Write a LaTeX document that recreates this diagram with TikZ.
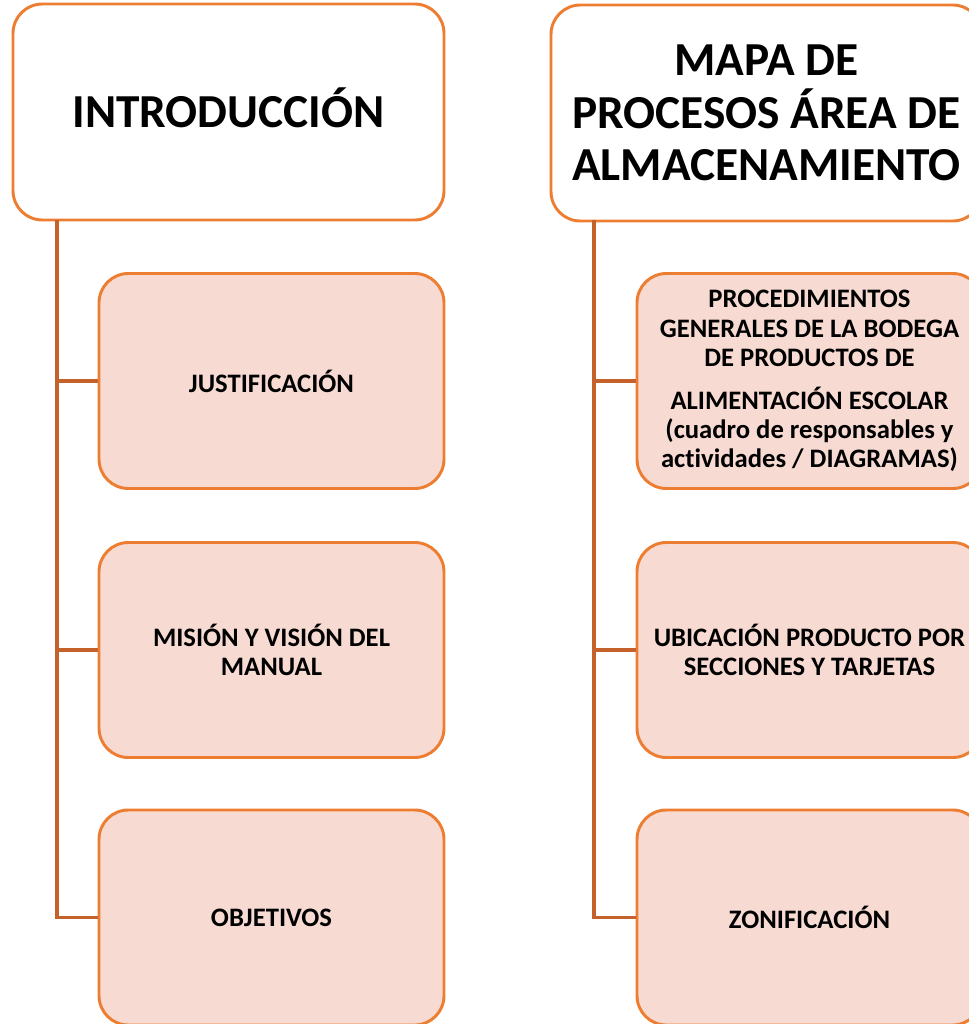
\documentclass[tikz,border=0pt]{standalone}
\usepackage{fontspec}
\setmainfont{Carlito}[Ligatures=NoCommon]
\definecolor{boxline}{HTML}{ED7D31}
\definecolor{boxfill}{HTML}{F7DAD2}
\definecolor{conn}{HTML}{C5622B}
\begin{document}
\begin{tikzpicture}[x=0.75pt,y=-0.75pt,
  header/.style={draw=boxline,line width=2.2pt,fill=white,rounded corners=22pt,
    minimum width=323.25pt,minimum height=162pt,align=center,inner sep=2pt,
    font=\bfseries\fontsize{35.5}{39.4}\selectfont},
  child/.style={draw=boxline,line width=2.2pt,fill=boxfill,rounded corners=22pt,
    minimum width=258.75pt,minimum height=161.25pt,align=center,inner sep=2pt,
    font=\bfseries\fontsize{20}{22}\selectfont},
  conn/.style={draw=conn,line width=2.3pt}]
\useasboundingbox (0,0) rectangle (969,1024);
\clip (0,0) rectangle (969,1024);
% left column
\node[header,text height=22.9pt,text depth=0pt] (h1) at (228.5,112) {INTRODUCCIÓN};
\node[child] (a1) at (271.5,381) {JUSTIFICACIÓN};
\node[child] (a2) at (271.5,650) {MISIÓN Y VISIÓN DEL\\MANUAL};
\node[child] (a3) at (271.5,917.5) {OBJETIVOS};
\coordinate (lt) at (57,220);
\draw[conn] (lt) |- (a3.west);
\draw[conn] (lt) |- (a1.west);
\draw[conn] (lt) |- (a2.west);
% right column
\node[header] (h2) at (766.5,113) {MAPA DE\\PROCESOS ÁREA DE\\ALMACENAMIENTO};
\node[child] (b1) at (809.5,381) {PROCEDIMIENTOS\\GENERALES DE LA BODEGA\\DE PRODUCTOS DE\\[10pt]ALIMENTACIÓN ESCOLAR\\(cuadro de responsables y\\actividades / DIAGRAMAS)};
\node[child] (b2) at (809.5,650) {UBICACIÓN PRODUCTO POR\\SECCIONES Y TARJETAS};
\node[child] (b3) at (809.5,917.5) {ZONIFICACIÓN};
\coordinate (rt) at (594,220);
\draw[conn] (rt) |- (b3.west);
\draw[conn] (rt) |- (b1.west);
\draw[conn] (rt) |- (b2.west);
\end{tikzpicture}
\end{document}
